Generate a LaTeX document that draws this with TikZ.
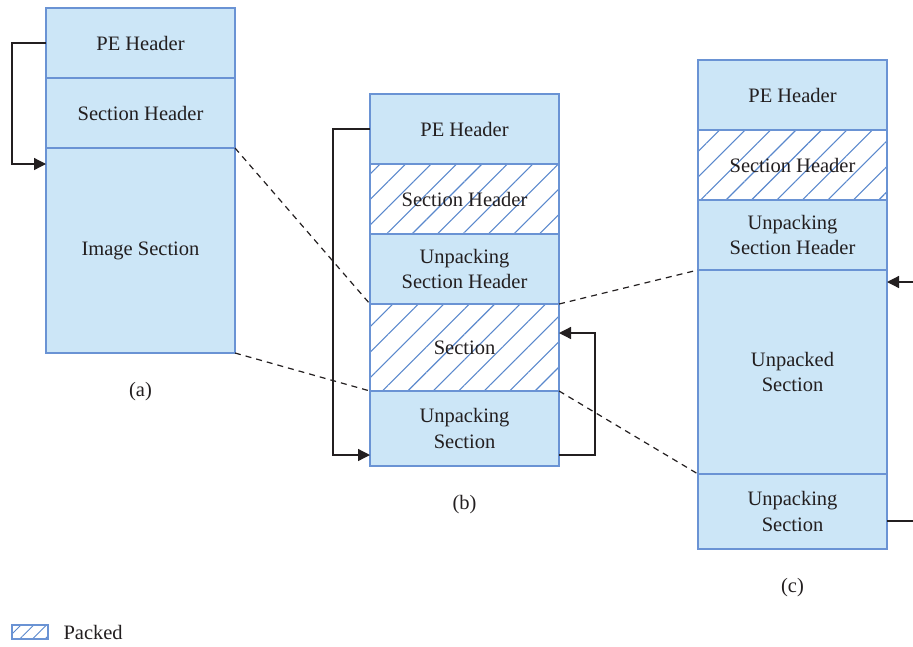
\documentclass[tikz,border=0pt]{standalone}
\usepackage{fontspec}
\setmainfont{Liberation Serif}
\usepackage{tikz}
\usetikzlibrary{positioning,arrows.meta,patterns.meta}
\definecolor{boxfill}{HTML}{CCE6F7}
\definecolor{edge}{HTML}{6A93D4}
\definecolor{hatch}{HTML}{5A88CC}
\definecolor{ink}{HTML}{231F20}
\tikzset{
  blk/.style = {rectangle, draw=edge, fill=boxfill, line width=1.3pt, minimum width=189pt,
    align=center, inner sep=0pt, outer sep=0pt, text=ink, font=\fontsize{20.5}{25.5}\selectfont},
  packed/.style = {blk, fill=none, pattern={Lines[angle=45,distance=18pt,line width=1.1pt]}, pattern color=hatch},
  lbl/.style = {text=ink, font=\fontsize{20.5}{24}\selectfont},
  link/.style = {draw=ink, line width=1.3pt, -{Triangle[length=12pt,width=12pt]}},
  dashlink/.style = {draw=ink, line width=1.2pt, dash pattern=on 6pt off 5pt}
}

\begin{document}
\begin{tikzpicture}[x=1pt, y=-1pt]
    \useasboundingbox (0,0) rectangle (913,646);

    % Column (a)
    \node [blk, minimum height=70pt, anchor=north west] (a1) at (46,8) {PE Header};
    \node [blk, minimum height=70pt, below=0pt of a1] (a2) {Section Header};
    \node [blk, minimum height=205pt, below=0pt of a2] (a3) {Image Section};
    \node [lbl, below=26pt of a3] (alab) {(a)};

    % Column (b)
    \node [blk, minimum height=70pt, anchor=north west] (b1) at (370,94) {PE Header};
    \node [packed, minimum height=70pt, below=0pt of b1] (b2) {Section Header};
    \node [blk, minimum height=70pt, below=0pt of b2] (b3) {Unpacking\\Section Header};
    \node [packed, minimum height=87pt, below=0pt of b3] (b4) {Section};
    \node [blk, minimum height=75pt, below=0pt of b4] (b5) {Unpacking\\Section};
    \node [lbl, below=26pt of b5] (blab) {(b)};

    % Column (c)
    \node [blk, minimum height=70pt, anchor=north west] (c1) at (698,60) {PE Header};
    \node [packed, minimum height=70pt, below=0pt of c1] (c2) {Section Header};
    \node [blk, minimum height=70pt, below=0pt of c2] (c3) {Unpacking\\Section Header};
    \node [blk, minimum height=204pt, below=0pt of c3] (c4) {Unpacked\\Section};
    \node [blk, minimum height=75pt, below=0pt of c4] (c5) {Unpacking\\Section};
    \node [lbl, below=26pt of c5] (clab) {(c)};

    % Legend
    \node [packed, minimum width=36pt, minimum height=14pt, line width=1.2pt,
      pattern={Lines[angle=45,distance=9pt,line width=1pt]}, anchor=north west] (key) at (12,625) {};
    \node [lbl, right=12pt of key] (keylab) {Packed};

    % arrows
    \draw [link] (a1.west) -- ++(-34,0) |- ([yshift=-16pt]a3.north west);
    \draw [link] (b1.west) -- ++(-37,0) |- ([yshift=11pt]b5.south west);
    \draw [link] ([yshift=11pt]b5.south east) -- ++(36,0) |- ([yshift=-29pt]b4.north east);
    \coordinate (cin) at ([xshift=26pt, yshift=-12pt]c4.north east);
    \coordinate (cout) at ([xshift=26pt, yshift=28pt]c5.south east);
    \draw [link] (cin) -- ([yshift=-12pt]c4.north east);
    \draw [draw=ink, line width=1.3pt] ([yshift=28pt]c5.south east) -- (cout);

    % dashed lines
    \draw [dashlink] (a2.south east) -- (b4.north west);
    \draw [dashlink] (a3.south east) -- (b5.north west);
    \draw [dashlink] (b4.north east) -- (c4.north west);
    \draw [dashlink] (b5.north east) -- (c5.north west);

\end{tikzpicture}
\end{document}
